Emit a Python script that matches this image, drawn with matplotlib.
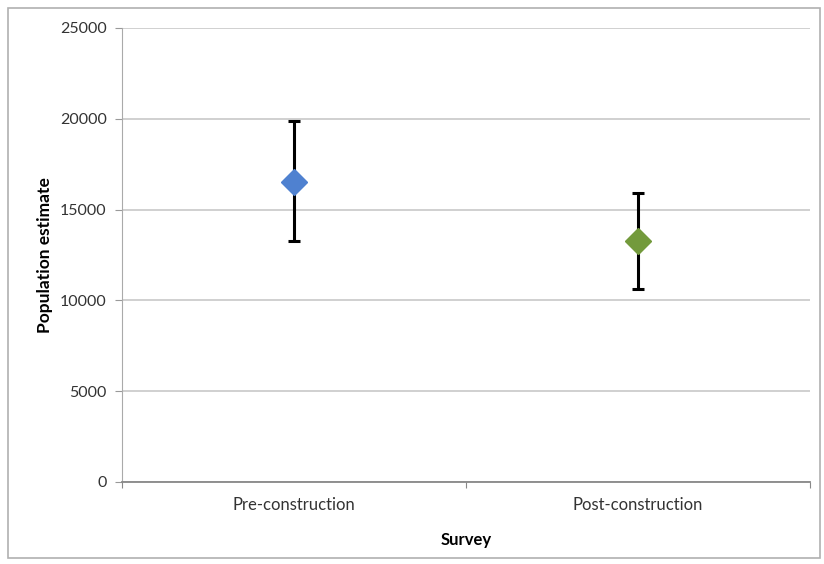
import matplotlib.pyplot as plt
from matplotlib.patches import Rectangle

surveys = ["Pre-construction", "Post-construction"]
estimate = [16500, 13250]
upper = [19900, 15900]
lower = [13250, 10600]
colors = ["#4f81d0", "#739a3c"]

plt.rcParams['font.family'] = ['Lato', 'DejaVu Sans']

fig = plt.figure(figsize=(8.24, 5.64), dpi=100)
ax = fig.add_axes([0.148, 0.1454, 0.835, 0.805])

xpos = [0.5, 1.5]
for i in range(len(surveys)):
    err = [[estimate[i] - lower[i]], [upper[i] - estimate[i]]]
    ax.errorbar(xpos[i], estimate[i], yerr=err, fmt='D', color=colors[i],
                markersize=13, ecolor='black', elinewidth=2.2, capsize=4,
                capthick=2.2, zorder=3)

ax.set_xlim(0, 2)
ax.set_ylim(0, 25000)
ax.set_yticks(range(0, 25001, 5000))
ax.set_xticks([0, 1, 2])
ax.set_xticklabels([])
ax.set_xticks(xpos, minor=True)
ax.set_xticklabels(surveys, minor=True, fontsize=12, color='#333333')
ax.tick_params(axis='x', which='minor', length=0, pad=11)
ax.tick_params(axis='x', which='major', length=4, color='#888888', direction='out')
ax.tick_params(axis='y', length=5, color='#999999', labelsize=11.5, labelcolor='#333333', pad=6)
ax.grid(axis='y', color='#c8c8c8', linewidth=1.2)
ax.set_axisbelow(True)
for s in ['top', 'right']:
    ax.spines[s].set_visible(False)
ax.spines['left'].set_color('#aaaaaa')
ax.spines['bottom'].set_color('#888888')
ax.spines['bottom'].set_linewidth(1.3)

ax.set_xlabel("Survey", fontsize=12, fontweight='bold', va='center')
ax.xaxis.set_label_coords(0.5, -0.128)
ax.set_ylabel("Population estimate", fontsize=12.5, fontweight='bold', va='center')
ax.yaxis.set_label_coords(-0.112, 0.5)

fig.patches.append(Rectangle((0.01, 0.01), 0.985, 0.975, transform=fig.transFigure,
                             fill=False, edgecolor='#b0b0b0', linewidth=1.2))

fig.savefig("out.png", dpi=100)
